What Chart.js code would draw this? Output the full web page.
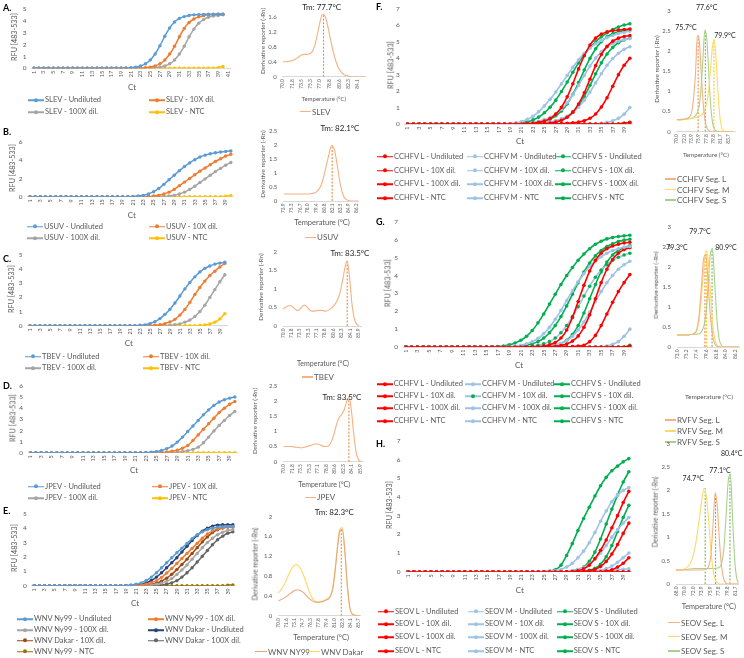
<!DOCTYPE html>
<html>
<head>
<meta charset="utf-8">
<script src="https://cdn.jsdelivr.net/npm/chart.js@4.4.1/dist/chart.umd.min.js"></script>
<style>
  body { margin: 0; background: #fff; }
  #fig { position: relative; width: 744px; height: 658px; overflow: hidden; font-family: Lato, "DejaVu Sans", sans-serif; color: #595959; }
  #fig canvas { position: absolute; }
  .pl { position: absolute; font-weight: bold; font-size: 9px; color: #000; }
  .tx { position: absolute; white-space: nowrap; transform: translate(-50%, -50%); line-height: 1; }
  .tx.rot { transform: translate(-50%, -50%) rotate(-90deg); }
  .lg { position: absolute; white-space: nowrap; font-size: 7.5px; line-height: 1; transform: translateY(-50%); display: flex; align-items: center; }
  .sw { display: inline-block; position: relative; height: 1.6px; margin-right: 1px; }
  .sw i { position: absolute; left: 50%; top: 50%; width: 4px; height: 4px; border-radius: 50%; transform: translate(-50%, -50%); }
</style>
</head>
<body>
<div id="fig"></div>
<script>
// cycles on the amplification plots
const cycles41 = [1,2,3,4,5,6,7,8,9,10,11,12,13,14,15,16,17,18,19,20,21,22,23,24,25,26,27,28,29,30,31,32,33,34,35,36,37,38,39,40,41];
const cycles40 = [1,2,3,4,5,6,7,8,9,10,11,12,13,14,15,16,17,18,19,20,21,22,23,24,25,26,27,28,29,30,31,32,33,34,35,36,37,38,39,40];

// A. SLEV
const slevNames = ['SLEV - Undiluted', 'SLEV - 10X dil.', 'SLEV - 100X dil.', 'SLEV - NTC'];
const slevUndil = [0,0,0,0,0, 0,0,0,0,0, 0,0,0,0,0, 0,0,0,0, 0.02,0.05,0.1,0.2,0.38,0.7,1.2,1.9,2.7,3.4,3.9,4.2,4.35,4.45,4.5,4.52,4.54,4.55,4.55,4.56,4.56];
const slev10x = [0,0,0,0,0, 0,0,0,0,0, 0,0,0,0,0, 0,0,0,0,0, 0,0, 0.02,0.05,0.1,0.2,0.38,0.7,1.2,1.85,2.65,3.35,3.85,4.15,4.33,4.43,4.5,4.53,4.55,4.56];
const slev100x = [0,0,0,0,0, 0,0,0,0,0, 0,0,0,0,0, 0,0,0,0,0, 0,0,0,0, 0.02,0.05,0.1,0.2,0.38,0.7,1.2,1.85,2.65,3.3,3.8,4.1,4.3,4.4,4.45,4.5];
const slevNtc = [0,0,0,0,0, 0,0,0,0,0, 0,0,0,0,0, 0,0,0,0,0, 0,0,0,0,0, 0,0,0,0,0, 0,0,0,0,0, 0,0,0, 0.05,0.15];

// B. USUV
const usuvNames = ['USUV - Undiluted', 'USUV - 10X dil.', 'USUV - 100X dil.', 'USUV - NTC'];
const usuvUndil = [0,0,0,0,0, 0,0,0,0,0, 0,0,0,0,0, 0,0,0,0,0, 0.03,0.07,0.15,0.3,0.55,0.9,1.35,1.85,2.35,2.85,3.3,3.7,4.05,4.35,4.55,4.7,4.82,4.9,4.96,5.0];
const usuv10x = [0,0,0,0,0, 0,0,0,0,0, 0,0,0,0,0, 0,0,0,0,0, 0,0,0, 0.03,0.07,0.15,0.3,0.5,0.8,1.2,1.6,2.0,2.4,2.8,3.15,3.5,3.85,4.15,4.45,4.65];
const usuv100x = [0,0,0,0,0, 0,0,0,0,0, 0,0,0,0,0, 0,0,0,0,0, 0,0,0,0,0, 0, 0.03,0.07,0.15,0.3,0.5,0.8,1.15,1.55,1.95,2.35,2.75,3.1,3.45,3.75];
const usuvNtc = [0,0,0,0,0, 0,0,0,0,0, 0,0,0,0,0, 0,0,0,0,0, 0,0,0,0,0, 0,0,0,0,0, 0,0,0,0,0, 0,0,0, 0.05,0.12];

// C. TBEV
const tbevNames = ['TBEV - Undiluted', 'TBEV - 10X dil.', 'TBEV - 100X dil.', 'TBEV - NTC'];
const tbevUndil = [0,0,0,0,0, 0,0,0,0,0, 0,0,0,0,0, 0,0,0,0,0, 0,0, 0.03,0.06,0.15,0.28,0.5,0.8,1.15,1.6,2.1,2.6,3.05,3.45,3.8,4.05,4.22,4.35,4.42,4.48];
const tbev10x = [0,0,0,0,0, 0,0,0,0,0, 0,0,0,0,0, 0,0,0,0,0, 0,0,0,0,0, 0.03,0.07,0.15,0.27,0.45,0.75,1.15,1.65,2.2,2.7,3.15,3.55,3.85,4.15,4.4];
const tbev100x = [0,0,0,0,0, 0,0,0,0,0, 0,0,0,0,0, 0,0,0,0,0, 0,0,0,0,0, 0,0,0, 0.03,0.07,0.13,0.25,0.4,0.65,1.0,1.45,2.0,2.55,3.1,3.6];
const tbevNtc = [0,0,0,0,0, 0,0,0,0,0, 0,0,0,0,0, 0,0,0,0,0, 0,0,0,0,0, 0,0,0,0,0, 0,0,0,0, 0.02,0.05,0.12,0.25,0.48,0.85];

// D. JPEV
const jpevNames = ['JPEV - Undiluted', 'JPEV - 10X dil.', 'JPEV - 100X dil.', 'JPEV - NTC'];
const jpevUndil = [0,0,0,0,0, 0,0,0,0,0, 0,0,0,0,0, 0,0,0,0,0, 0,0, 0.02,0.05,0.1,0.2,0.37,0.6,0.95,1.4,1.9,2.4,2.9,3.4,3.85,4.25,4.55,4.75,4.9,5.0];
const jpev10x = [0,0,0,0,0, 0,0,0,0,0, 0,0,0,0,0, 0,0,0,0,0, 0,0,0,0,0, 0.03,0.07,0.13,0.23,0.4,0.65,1.1,1.6,2.1,2.6,3.1,3.6,4.0,4.35,4.6];
const jpev100x = [0,0,0,0,0, 0,0,0,0,0, 0,0,0,0,0, 0,0,0,0,0, 0,0,0,0,0, 0,0,0, 0.05,0.1,0.17,0.3,0.5,0.9,1.4,1.95,2.45,2.9,3.35,3.7];
const jpevNtc = [0,0,0,0,0, 0,0,0,0,0, 0,0,0,0,0, 0,0,0,0,0, 0,0,0,0,0, 0,0,0,0,0, 0,0,0,0,0, 0,0,0,0,0];

// E. WNV
const wnvNames = ['WNV Ny99 - Undiluted', 'WNV Ny99 - 10X dil.', 'WNV Ny99 - 100X dil.', 'WNV Dakar - Undiluted', 'WNV Dakar - 10X dil.', 'WNV Dakar - 100X dil.', 'WNV Ny99 - NTC'];
const wnvNyUndil = [0,0,0,0,0, 0,0,0,0,0, 0,0,0,0,0, 0,0,0, 0.02,0.05,0.1,0.2,0.37,0.6,0.9,1.25,1.6,1.95,2.3,2.62,2.95,3.28,3.55,3.75,3.9,4.0,4.07,4.1,4.12,4.13];
const wnvNy10x = [0,0,0,0,0, 0,0,0,0,0, 0,0,0,0,0, 0,0,0,0,0, 0.02,0.05,0.1,0.2,0.35,0.58,0.88,1.2,1.55,1.9,2.25,2.6,2.95,3.3,3.6,3.82,3.95,4.03,4.08,4.1];
const wnvNy100x = [0,0,0,0,0, 0,0,0,0,0, 0,0,0,0,0, 0,0,0,0,0, 0,0, 0.02,0.05,0.1,0.18,0.3,0.5,0.78,1.1,1.45,1.85,2.25,2.65,3.0,3.3,3.55,3.72,3.85,3.92];
const wnvDkUndil = [0,0,0,0,0, 0,0,0,0,0, 0,0,0,0,0, 0,0,0,0, 0.02,0.05,0.1,0.2,0.37,0.6,0.9,1.25,1.6,1.95,2.35,2.75,3.15,3.5,3.8,4.0,4.15,4.22,4.25,4.25,4.25];
const wnvDk10x = [0,0,0,0,0, 0,0,0,0,0, 0,0,0,0,0, 0,0,0,0,0, 0, 0.02,0.05,0.1,0.18,0.32,0.52,0.8,1.12,1.48,1.85,2.25,2.65,3.05,3.4,3.7,3.9,4.02,4.08,4.1];
const wnvDk100x = [0,0,0,0,0, 0,0,0,0,0, 0,0,0,0,0, 0,0,0,0,0, 0,0,0,0, 0.02,0.05,0.1,0.2,0.35,0.6,0.9,1.25,1.65,2.05,2.45,2.85,3.2,3.45,3.65,3.75];
const wnvNtc = [0,0,0,0,0, 0,0,0,0,0, 0,0,0,0,0, 0,0,0,0,0, 0,0,0,0,0, 0,0,0,0,0, 0,0,0,0,0, 0,0,0, 0.03,0.05];

// F. CCHFV
const cchfvNames = ['CCHFV L - Undiluted', 'CCHFV M - Undiluted', 'CCHFV S - Undiluted', 'CCHFV L - 10X dil.', 'CCHFV M - 10X dil.', 'CCHFV S - 10X dil.', 'CCHFV L - 100X dil.', 'CCHFV M - 100X dil.', 'CCHFV S - 100X dil.', 'CCHFV L - NTC', 'CCHFV M - NTC', 'CCHFV S - NTC'];
const fLUndil = [0,0,0,0,0, 0,0,0,0,0, 0,0,0,0,0, 0,0,0,0,0, 0, 0.02,0.05,0.1,0.18,0.33,0.6,1.02,1.65,2.45,3.35,4.15,4.8,5.22,5.47,5.6,5.68,5.72,5.75,5.77];
const fMUndil = [0,0,0,0,0, 0,0,0,0,0, 0,0,0,0,0, 0,0,0, 0.03,0.07,0.15,0.28,0.47,0.75,1.1,1.5,1.95,2.45,2.95,3.45,3.9,4.3,4.62,4.88,5.08,5.25,5.38,5.5,5.58,5.65];
const fSUndil = [0,0,0,0,0, 0,0,0,0,0, 0,0,0,0,0, 0,0,0,0, 0.03,0.07,0.14,0.25,0.42,0.68,1.02,1.45,1.98,2.55,3.15,3.72,4.22,4.65,5.0,5.3,5.55,5.75,5.9,6.02,6.1];
const fL10x = [0,0,0,0,0, 0,0,0,0,0, 0,0,0,0,0, 0,0,0,0,0, 0,0,0,0, 0.03,0.06,0.12,0.23,0.41,0.72,1.22,1.9,2.72,3.55,4.23,4.72,5.04,5.22,5.32,5.38];
const fM10x = [0,0,0,0,0, 0,0,0,0,0, 0,0,0,0,0, 0,0,0,0,0, 0.03,0.06,0.1,0.17,0.27,0.4,0.61,0.9,1.29,1.78,2.35,2.95,3.52,4.01,4.4,4.69,4.9,5.04,5.13,5.19];
const fS10x = [0,0,0,0,0, 0,0,0,0,0, 0,0,0,0,0, 0,0,0,0,0, 0, 0.03,0.06,0.11,0.19,0.31,0.5,0.79,1.22,1.81,2.52,3.28,3.99,4.58,5.01,5.3,5.49,5.61,5.69,5.74];
const fL100x = [0,0,0,0,0, 0,0,0,0,0, 0,0,0,0,0, 0,0,0,0,0, 0,0,0,0,0, 0,0, 0.02,0.04,0.07,0.12,0.2,0.35,0.61,1.03,1.6,2.3,3.0,3.57,4.0];
const fM100x = [0,0,0,0,0, 0,0,0,0,0, 0,0,0,0,0, 0,0,0,0,0, 0,0, 0.03,0.05,0.08,0.13,0.2,0.31,0.47,0.7,1.02,1.44,1.94,2.5,3.06,3.57,3.98,4.3,4.54,4.7];
const fS100x = [0,0,0,0,0, 0,0,0,0,0, 0,0,0,0,0, 0,0,0,0,0, 0,0,0, 0.03,0.06,0.1,0.17,0.29,0.46,0.74,1.14,1.68,2.35,3.05,3.72,4.26,4.66,4.94,5.11,5.23];
const fLNtc = [0,0,0,0,0, 0,0,0,0,0, 0,0,0,0,0, 0,0,0,0,0, 0,0,0,0,0, 0,0,0,0,0, 0,0,0,0,0, 0,0,0, 0.05,0.1];
const fMNtc = [0,0,0,0,0, 0,0,0,0,0, 0,0,0,0,0, 0,0,0,0,0, 0,0,0,0,0, 0,0,0,0,0, 0,0,0,0, 0.05,0.1,0.2,0.35,0.6,1.0];
const fSNtc = [0,0,0,0,0, 0,0,0,0,0, 0,0,0,0,0, 0,0,0,0,0, 0,0,0,0,0, 0,0,0,0,0, 0,0,0,0,0, 0,0,0, 0.05,0.08];

// G. RVFV (legend as printed)
const gLUndil = [0,0,0,0,0, 0,0,0,0,0, 0,0,0,0,0, 0,0,0,0,0, 0,0,0,0, 0.05,0.12,0.25,0.5,0.95,1.65,2.55,3.45,4.25,4.85,5.25,5.5,5.65,5.75,5.82,5.86];
const gMUndil = [0,0,0,0,0, 0,0,0,0,0, 0,0,0,0,0, 0,0,0, 0.03,0.06,0.1,0.18,0.3,0.48,0.75,1.1,1.55,2.05,2.6,3.15,3.65,4.1,4.5,4.8,5.05,5.25,5.4,5.5,5.58,5.63];
const gSUndil = [0,0,0,0,0, 0,0,0,0,0, 0,0,0,0,0, 0, 0.03,0.06,0.12,0.22,0.38,0.6,0.92,1.35,1.85,2.4,2.95,3.5,4.0,4.45,4.85,5.2,5.5,5.75,5.92,6.05,6.13,6.18,6.22,6.25];
const gL10x = [0,0,0,0,0, 0,0,0,0,0, 0,0,0,0,0, 0,0,0,0,0, 0,0,0,0,0, 0, 0.04,0.08,0.17,0.33,0.62,1.1,1.8,2.7,3.6,4.35,4.9,5.25,5.45,5.55];
const gM10x = [0,0,0,0,0, 0,0,0,0,0, 0,0,0,0,0, 0,0,0,0,0, 0,0, 0.05,0.1,0.18,0.3,0.5,0.8,1.2,1.7,2.25,2.85,3.4,3.9,4.3,4.6,4.85,5.02,5.15,5.25];
const gS10x = [0,0,0,0,0, 0,0,0,0,0, 0,0,0,0,0, 0,0,0,0,0, 0.05,0.1,0.18,0.3,0.5,0.8,1.2,1.7,2.3,2.95,3.6,4.2,4.7,5.1,5.4,5.62,5.78,5.9,5.98,6.03];
const gL100x = [0,0,0,0,0, 0,0,0,0,0, 0,0,0,0,0, 0,0,0,0,0, 0,0,0,0,0, 0,0,0,0, 0.02,0.05,0.1,0.3,0.65,1.2,1.85,2.5,3.1,3.6,4.05];
const gM100x = [0,0,0,0,0, 0,0,0,0,0, 0,0,0,0,0, 0,0,0,0,0, 0,0,0,0, 0.03,0.06,0.1,0.2,0.35,0.6,0.95,1.4,1.95,2.55,3.1,3.6,4.0,4.35,4.6,4.8];
const gS100x = [0,0,0,0,0, 0,0,0,0,0, 0,0,0,0,0, 0,0,0,0,0, 0,0,0,0,0, 0.05,0.1,0.2,0.38,0.7,1.2,1.9,2.7,3.5,4.2,4.75,5.15,5.4,5.57,5.68];
const gLNtc = [0,0,0,0,0, 0,0,0,0,0, 0,0,0,0,0, 0,0,0,0,0, 0,0,0,0,0, 0,0,0,0,0, 0,0,0,0,0, 0,0,0,0, 0.05];
const gMNtc = [0,0,0,0,0, 0,0,0,0,0, 0,0,0,0,0, 0,0,0,0,0, 0,0,0,0,0, 0,0,0,0,0, 0,0,0,0,0, 0.05,0.15,0.3,0.6,1.0];
const gSNtc = [0,0,0,0,0, 0,0,0,0,0, 0,0,0,0,0, 0,0,0,0,0, 0,0,0,0,0, 0,0,0,0,0, 0,0,0,0,0, 0,0,0,0, 0.1];

// H. SEOV
const seovNames = ['SEOV L - Undiluted', 'SEOV M - Undiluted', 'SEOV S - Undiluted', 'SEOV L - 10X dil.', 'SEOV M - 10X dil.', 'SEOV S - 10X dil.', 'SEOV L - 100X dil.', 'SEOV M - 100X dil.', 'SEOV S - 100X dil.', 'SEOV L - NTC', 'SEOV M - NTC', 'SEOV S - NTC'];
const hLUndil = [0,0,0,0,0, 0,0,0,0,0, 0,0,0,0,0, 0,0,0,0,0, 0,0,0,0,0, 0,0,0,0,0, 0.05,0.15,0.35,0.7,1.15,1.7,2.35,3.0,3.7,4.3];
const hMUndil = [0,0,0,0,0, 0,0,0,0,0, 0,0,0,0,0, 0,0,0,0,0, 0,0,0,0, 0.01,0.03,0.05,0.12,0.25,0.45,0.75,1.1,1.55,2.1,2.7,3.25,3.75,4.1,4.35,4.5];
const hSUndil = [0,0,0,0,0, 0,0,0,0,0, 0,0,0,0,0, 0,0,0,0,0, 0,0,0,0,0, 0.03,0.1,0.35,0.87,1.5,2.2,2.85,3.45,4.05,4.6,5.05,5.4,5.65,5.88,6.05];
const hL10x = [0,0,0,0,0, 0,0,0,0,0, 0,0,0,0,0, 0,0,0,0,0, 0,0,0,0,0, 0,0,0,0,0, 0,0, 0.05,0.12,0.28,0.55,0.95,1.45,2.05,2.6];
const hM10x = [0,0,0,0,0, 0,0,0,0,0, 0,0,0,0,0, 0,0,0,0,0, 0,0,0,0,0, 0,0,0,0, 0.05,0.12,0.22,0.4,0.65,1.0,1.4,1.85,2.25,2.6,2.9];
const hS10x = [0,0,0,0,0, 0,0,0,0,0, 0,0,0,0,0, 0,0,0,0,0, 0,0,0,0,0, 0,0,0,0, 0.05,0.12,0.25,0.55,1.05,1.75,2.55,3.35,4.1,4.8,5.35];
const hL100x = [0,0,0,0,0, 0,0,0,0,0, 0,0,0,0,0, 0,0,0,0,0, 0,0,0,0,0, 0,0,0,0,0, 0,0,0,0,0, 0.03,0.1,0.25,0.45,0.75];
const hM100x = [0,0,0,0,0, 0,0,0,0,0, 0,0,0,0,0, 0,0,0,0,0, 0,0,0,0,0, 0,0,0,0,0, 0,0,0, 0.03,0.08,0.17,0.3,0.5,0.75,1.0];
const hS100x = [0,0,0,0,0, 0,0,0,0,0, 0,0,0,0,0, 0,0,0,0,0, 0,0,0,0,0, 0,0,0,0,0, 0, 0.03,0.08,0.18,0.4,0.8,1.4,2.15,2.9,3.55];
const hLNtc = [0,0,0,0,0, 0,0,0,0,0, 0,0,0,0,0, 0,0,0,0,0, 0,0,0,0,0, 0,0,0,0,0, 0,0,0,0,0, 0,0,0,0,0];
const hMNtc = [0,0,0,0,0, 0,0,0,0,0, 0,0,0,0,0, 0,0,0,0,0, 0,0,0,0,0, 0,0,0,0,0, 0,0,0,0,0, 0.03,0.06,0.1,0.13,0.15];
const hSNtc = [0,0,0,0,0, 0,0,0,0,0, 0,0,0,0,0, 0,0,0,0,0, 0,0,0,0,0, 0,0,0,0,0, 0,0,0,0,0, 0,0,0,0,0];

// melt curves (temperature, derivative)
const slevTemps = [70,70.5,71,71.5,72,72.5,73,73.5,74,74.5,75,75.5,76,76.5,77,77.5,78,78.5,79,79.5,80,80.5,81,81.5,82,82.5,83,83.5,84,84.5,85,85.5];
const slevMelt = [0.4,0.4,0.41,0.42,0.44,0.48,0.53,0.58,0.6,0.6,0.61,0.66,0.82,1.12,1.45,1.68,1.62,1.35,1.0,0.68,0.42,0.24,0.13,0.06,0.03,0.01,0,0,0,0,0,0];
const usuvTemps = [74,74.5,75,75.5,76,76.5,77,77.5,78,78.5,79,79.5,80,80.5,81,81.5,82,82.5,83,83.5,84,84.5,85,85.5,86,86.5];
const usuvMelt = [0.25,0.25,0.25,0.25,0.25,0.25,0.25,0.25,0.25,0.26,0.28,0.33,0.45,0.72,1.15,1.6,1.97,1.8,1.2,0.55,0.18,0.05,0.01,0,0,0];
const temps70to86 = [70,70.5,71,71.5,72,72.5,73,73.5,74,74.5,75,75.5,76,76.5,77,77.5,78,78.5,79,79.5,80,80.5,81,81.5,82,82.5,83,83.5,84,84.5,85,85.5,86];
const tbevMelt = [0.45,0.5,0.54,0.55,0.52,0.46,0.42,0.44,0.52,0.56,0.52,0.44,0.4,0.4,0.41,0.42,0.42,0.41,0.4,0.42,0.46,0.52,0.6,0.72,0.9,1.2,1.55,1.75,1.3,0.6,0.2,0.05,0.01];
const jpevMelt = [0.5,0.5,0.5,0.5,0.49,0.48,0.47,0.46,0.46,0.48,0.5,0.53,0.56,0.58,0.58,0.56,0.52,0.5,0.5,0.55,0.7,0.95,1.25,1.45,1.55,1.7,1.95,2.12,1.7,0.9,0.3,0.06,0.01];
const wnvNyMelt = [0.3,0.32,0.35,0.38,0.42,0.46,0.5,0.52,0.52,0.5,0.46,0.4,0.35,0.31,0.28,0.27,0.27,0.28,0.3,0.32,0.36,0.48,0.8,1.3,1.7,1.75,1.3,0.6,0.15,0.03,0.01,0,0];
const wnvDkMelt = [0.45,0.52,0.6,0.7,0.82,0.93,1.0,1.03,1.0,0.92,0.8,0.65,0.5,0.38,0.31,0.28,0.28,0.29,0.31,0.34,0.38,0.5,0.85,1.35,1.75,1.78,1.3,0.58,0.15,0.03,0.01,0,0];
const cchfvTemps = [70,70.5,71,71.5,72,72.5,73,73.5,74,74.5,75,75.5,76,76.5,77,77.5,78,78.5,79,79.5,80,80.5,81,81.5,82,82.5,83,83.5,84,84.5,85];
const cchfvLMelt = [0.3,0.3,0.3,0.31,0.31,0.32,0.34,0.38,0.5,0.85,1.45,2.38,2.25,1.5,0.75,0.3,0.1,0.03,0.01,0,0,0,0,0,0,0,0,0,0,0,0];
const cchfvMMelt = [0.3,0.3,0.3,0.3,0.31,0.31,0.32,0.32,0.33,0.34,0.35,0.36,0.38,0.41,0.46,0.55,0.72,1.05,1.55,2.1,2.28,1.75,0.95,0.35,0.1,0.02,0,0,0,0,0];
const cchfvSMelt = [0.3,0.3,0.3,0.3,0.31,0.31,0.32,0.32,0.33,0.35,0.4,0.48,0.65,1.1,1.85,2.52,2.3,1.5,0.7,0.25,0.07,0.02,0,0,0,0,0,0,0,0,0];
const rvfvTemps = [73,73.5,74,74.5,75,75.5,76,76.5,77,77.5,78,78.5,79,79.5,80,80.5,81,81.5,82,82.5,83,83.5,84,84.5,85,85.5,86,86.5,87];
const rvfvLMelt = [0.3,0.3,0.3,0.3,0.3,0.3,0.31,0.32,0.35,0.45,0.8,1.5,2.2,2.3,1.6,0.8,0.3,0.08,0.02,0,0,0,0,0,0,0,0,0,0];
const rvfvMMelt = [0.3,0.3,0.3,0.3,0.3,0.3,0.31,0.32,0.34,0.42,0.7,1.25,1.9,2.4,2.2,1.4,0.6,0.2,0.05,0.01,0,0,0,0,0,0,0,0,0];
const rvfvSMelt = [0.3,0.3,0.3,0.3,0.3,0.3,0.31,0.31,0.32,0.32,0.33,0.38,0.5,0.8,1.5,2.3,2.45,1.6,0.7,0.2,0.05,0,0,0,0,0,0,0,0];
const seovTemps = [68,68.5,69,69.5,70,70.5,71,71.5,72,72.5,73,73.5,74,74.5,75,75.5,76,76.5,77,77.5,78,78.5,79,79.5,80,80.5,81,81.5,82,82.5];
const seovLMelt = [0.3,0.3,0.3,0.3,0.3,0.3,0.3,0.3,0.3,0.3,0.3,0.3,0.3,0.31,0.32,0.38,0.6,1.25,1.95,1.65,0.9,0.35,0.1,0.02,0,0,0,0,0,0];
const seovMMelt = [0.3,0.3,0.3,0.31,0.32,0.35,0.4,0.48,0.62,0.85,1.15,1.5,1.85,2.05,1.85,1.35,0.75,0.3,0.1,0.03,0,0,0,0,0,0,0,0,0,0];
const seovSMelt = [0.3,0.3,0.3,0.3,0.31,0.31,0.32,0.32,0.33,0.33,0.33,0.33,0.33,0.33,0.33,0.33,0.33,0.33,0.33,0.34,0.36,0.45,0.75,1.45,2.2,2.35,1.4,0.5,0.1,0.02];

// tick labels on the melt axes
const ticksA = [70.0,71.8,73.5,75.3,77.0,78.8,80.6,82.3,84.1];
const ticksB = [73.9,75.3,76.7,78.0,79.4,80.8,82.1,83.5,84.9,86.2];
const ticksCD = [70.0,71.8,73.5,75.3,77.1,78.8,80.6,82.3,84.1,85.9];
const ticksE = [70.0,71.6,73.1,74.7,76.3,77.8,79.4,81.0,82.5,84.1,85.7];
const ticksF = [70.0,72.0,73.9,75.9,77.8,79.8,81.7,83.7];
const ticksG = [73.0,75.2,77.4,79.6,81.8,84.0,86.2];
const ticksH = [68.0,70.0,72.0,73.9,75.9,77.8,79.8,81.7];

// melting temperatures
const tmSlev = 77.7, tmUsuv = 82.1, tmTbev = 83.5, tmJpev = 83.5, tmWnv = 82.3;
const tmCchfv = [75.7, 79.9, 77.6];
const tmRvfv = [79.3, 79.7, 80.9];
const tmSeov = [77.1, 74.7, 80.4];

const BLUE = '#5B9BD5', ORANGE = '#ED7D31', GRAY = '#A5A5A5', GOLD = '#FFC000';
const DBLUE = '#264478', DORANGE = '#9E480E', DGRAY = '#636363', OLIVE = '#997300';
const RED = '#FF0000', LBLUE = '#9DC3E6', GREEN = '#00B050';
const M_OR = '#F4B183', M_YE = '#FFD966', M_GR = '#A9D18E';

Chart.defaults.font.family = 'Lato, "DejaVu Sans", sans-serif';
Chart.defaults.color = '#595959';
const fig = document.getElementById('fig');

function addCanvas(b) {
  const c = document.createElement('canvas');
  c.width = b.w; c.height = b.h;
  c.style.left = b.l + 'px'; c.style.top = b.t + 'px';
  c.style.width = b.w + 'px'; c.style.height = b.h + 'px';
  fig.appendChild(c);
  return c;
}
function addText(str, x, y, size, color, cls) {
  const d = document.createElement('div');
  d.className = cls || 'tx';
  d.textContent = str;
  d.style.left = x + 'px'; d.style.top = y + 'px';
  if (size) d.style.fontSize = size + 'px';
  if (color) d.style.color = color;
  fig.appendChild(d);
}
// items in row-major order over the given columns
function addLegend(items, xs, ys, sw, size, dots) {
  items.forEach((it, i) => {
    const d = document.createElement('div');
    d.className = 'lg';
    d.style.left = xs[i % xs.length] + 'px';
    d.style.top = ys[Math.floor(i / xs.length)] + 'px';
    if (size) d.style.fontSize = size + 'px';
    const s = document.createElement('span');
    s.className = 'sw';
    s.style.width = sw + 'px';
    s.style.background = it.color;
    if (dots) {
      const dot = document.createElement('i');
      dot.style.background = it.dot || it.color;
      s.appendChild(dot);
    }
    d.appendChild(s);
    d.appendChild(document.createTextNode(it.name));
    fig.appendChild(d);
  });
}

function ampChart(p) {
  const b = p.box, a = p.area;
  new Chart(addCanvas(b), {
    type: 'line',
    data: {
      labels: p.labels,
      datasets: p.series.map(s => ({
        label: s.name, data: s.data,
        borderColor: s.color, backgroundColor: s.dot || s.color,
        pointBackgroundColor: s.dot || s.color, pointBorderColor: s.dot || s.color,
        pointRadius: p.r || 1.7, pointBorderWidth: 0, borderWidth: p.lw || 1.5, tension: 0.2
      }))
    },
    options: {
      responsive: false, animation: false, devicePixelRatio: 1,
      layout: { padding: { left: 0, bottom: 0, top: a.top - b.t, right: b.l + b.w - a.right } },
      plugins: { legend: { display: false }, tooltip: { enabled: false } },
      scales: {
        x: {
          offset: true,
          grid: { display: false, drawTicks: false },
          border: { color: '#d9d9d9' },
          ticks: { autoSkip: false, minRotation: 90, maxRotation: 90, padding: 2.5, font: { size: 5.5 },
                   callback: (v, i) => (i % 2 === 0 ? p.labels[i] : '') },
          afterFit: s => { s.height = b.t + b.h - a.bottom; }
        },
        y: {
          min: 0, max: p.yMax,
          grid: { display: false, drawTicks: false }, border: { display: false },
          ticks: { stepSize: 1, padding: 5, font: { size: 6.5 } },
          afterFit: s => { s.width = a.left - b.l; }
        }
      }
    }
  });
  addText('RFU [483-533]', p.yt, (a.top + a.bottom) / 2, 7.2, null, 'tx rot');
  addText('Ct', (a.left + a.right) / 2, p.xt, 8);
}

function meltChart(p) {
  const b = p.box, a = p.area;
  const sets = p.curves.map(c => ({
    data: c.temps.map((t, i) => ({ x: t, y: c.vals[i] })),
    borderColor: c.color, borderWidth: 1.1, pointRadius: 0, cubicInterpolationMode: 'monotone'
  }));
  p.curves.forEach(c => {
    if (c.tm) sets.push({
      data: [{ x: c.tm, y: 0 }, { x: c.tm, y: Math.max(...c.vals) }],
      borderColor: c.dash, borderWidth: 1, borderDash: [2, 1.5], pointRadius: 0
    });
  });
  new Chart(addCanvas(b), {
    type: 'line',
    data: { datasets: sets },
    options: {
      responsive: false, animation: false, devicePixelRatio: 1,
      layout: { padding: { left: 0, bottom: 0, top: a.top - b.t, right: b.l + b.w - a.right } },
      plugins: { legend: { display: false }, tooltip: { enabled: false } },
      scales: {
        x: {
          type: 'linear', min: p.xMin, max: p.xMax,
          afterBuildTicks: s => { s.ticks = p.xTicks.map(v => ({ value: v })); },
          grid: { display: false, drawTicks: false },
          border: { color: '#d9d9d9' },
          ticks: { autoSkip: false, minRotation: 90, maxRotation: 90, padding: 2.5, font: { size: 4.8 },
                   callback: v => Number(v).toFixed(1) },
          afterFit: s => { s.height = b.t + b.h - a.bottom; }
        },
        y: {
          min: 0, max: p.yMax,
          grid: { display: false, drawTicks: false }, border: { display: false },
          ticks: { stepSize: p.yStep, padding: 6, font: { size: 6 },
                   callback: v => String(Math.round(v * 10) / 10) },
          afterFit: s => { s.width = a.left - b.l; }
        }
      }
    }
  });
  addText('Derivative reporter (-Rn)', p.yt, (a.top + a.bottom) / 2, p.yf || 6.3, null, 'tx rot');
  addText('Temperature (°C)', (a.left + a.right) / 2, p.xt, p.tf || 7);
}

// ---------- left column ----------
ampChart({ box: { l: 11, t: 0, w: 226, h: 92 }, area: { left: 31.5, top: 5.7, right: 232.5, bottom: 68.3 },
  yt: 15, xt: 87, yMax: 5, labels: cycles41,
  series: [
    { name: slevNames[0], data: slevUndil, color: BLUE },
    { name: slevNames[1], data: slev10x, color: ORANGE },
    { name: slevNames[2], data: slev100x, color: GRAY },
    { name: slevNames[3], data: slevNtc, color: GOLD }] });
addLegend([{ name: slevNames[0], color: BLUE }, { name: slevNames[1], color: ORANGE }, { name: slevNames[2], color: GRAY }, { name: slevNames[3], color: GOLD }],
  [28, 149], [100, 112.3], 16, 7.5, true);

ampChart({ box: { l: 8, t: 133, w: 232, h: 87 }, area: { left: 27.4, top: 139.8, right: 236.1, bottom: 196.7 },
  yt: 12.7, xt: 215, yMax: 6, labels: cycles40,
  series: [
    { name: usuvNames[0], data: usuvUndil, color: BLUE },
    { name: usuvNames[1], data: usuv10x, color: ORANGE },
    { name: usuvNames[2], data: usuv100x, color: GRAY },
    { name: usuvNames[3], data: usuvNtc, color: GOLD }] });
addLegend([{ name: usuvNames[0], color: BLUE }, { name: usuvNames[1], color: ORANGE }, { name: usuvNames[2], color: GRAY }, { name: usuvNames[3], color: GOLD }],
  [27, 149], [226.7, 238.3], 16, 7.5, true);

ampChart({ box: { l: 7, t: 246, w: 227, h: 102 }, area: { left: 27.5, top: 251.7, right: 230.3, bottom: 325.7 },
  yt: 11.7, xt: 343, yMax: 5, labels: cycles40,
  series: [
    { name: tbevNames[0], data: tbevUndil, color: BLUE },
    { name: tbevNames[1], data: tbev10x, color: ORANGE },
    { name: tbevNames[2], data: tbev100x, color: GRAY },
    { name: tbevNames[3], data: tbevNtc, color: GOLD }] });
addLegend([{ name: tbevNames[0], color: BLUE }, { name: tbevNames[1], color: ORANGE }, { name: tbevNames[2], color: GRAY }, { name: tbevNames[3], color: GOLD }],
  [25, 143], [356.7, 368.3], 16, 7.5, true);

ampChart({ box: { l: 8, t: 377, w: 236, h: 98 }, area: { left: 28, top: 382.5, right: 240, bottom: 452.7 },
  yt: 12.7, xt: 470, yMax: 6, labels: cycles40,
  series: [
    { name: jpevNames[0], data: jpevUndil, color: BLUE },
    { name: jpevNames[1], data: jpev10x, color: ORANGE },
    { name: jpevNames[2], data: jpev100x, color: GRAY },
    { name: jpevNames[3], data: jpevNtc, color: GOLD }] });
addLegend([{ name: jpevNames[0], color: BLUE }, { name: jpevNames[1], color: ORANGE }, { name: jpevNames[2], color: GRAY }, { name: jpevNames[3], color: GOLD }],
  [28, 152], [486.7, 498.3], 16, 7.5, true);

const wnvColors = [BLUE, ORANGE, GRAY, DBLUE, DORANGE, DGRAY, OLIVE];
const wnvData = [wnvNyUndil, wnvNy10x, wnvNy100x, wnvDkUndil, wnvDk10x, wnvDk100x, wnvNtc];
ampChart({ box: { l: 11, t: 505, w: 231, h: 103 }, area: { left: 31.7, top: 510.7, right: 238.5, bottom: 585.7 },
  yt: 15, xt: 603, yMax: 5, labels: cycles40,
  series: wnvNames.map((n, i) => ({ name: n, data: wnvData[i], color: wnvColors[i] })) });
addLegend(wnvNames.map((n, i) => ({ name: n, color: wnvColors[i] })), [17, 148], [619.3, 630, 640.7, 651.7], 16, 7.5, true);

// melt curves, left column
meltChart({ box: { l: 259, t: 0, w: 110, h: 103 }, area: { left: 282.7, top: 5.7, right: 365, bottom: 76.7 },
  yt: 262.7, xt: 99.3, xMin: 70, xMax: 85.5, xTicks: ticksA, yMax: 1.8, yStep: 0.2, tf: 6, yf: 6.2,
  curves: [{ temps: slevTemps, vals: slevMelt, color: M_OR, tm: tmSlev, dash: ORANGE }] });
addText('Tm: ' + tmSlev + '°C', 321.7, 6.7, 8, '#262626');
addLegend([{ name: 'SLEV', color: M_OR }], [300], [111.7], 11, 8, false);

meltChart({ box: { l: 259, t: 121, w: 106, h: 107 }, area: { left: 283.3, top: 126, right: 360.7, bottom: 201 },
  yt: 262.7, xt: 223.3, xMin: 73.9, xMax: 86.6, xTicks: ticksB, yMax: 2.5, yStep: 0.5, tf: 7.5, yf: 6.3,
  curves: [{ temps: usuvTemps, vals: usuvMelt, color: M_OR, tm: tmUsuv, dash: ORANGE }] });
addText('Tm: ' + tmUsuv + '°C', 340, 127.5, 8, '#262626');
addLegend([{ name: 'USUV', color: M_OR }], [305], [237.3], 11, 8, false);

meltChart({ box: { l: 257, t: 242, w: 110, h: 125 }, area: { left: 283, top: 247, right: 363, bottom: 326 },
  yt: 261, xt: 363, xMin: 70, xMax: 86.5, xTicks: ticksCD, yMax: 2, yStep: 0.5, tf: 7, yf: 6.3,
  curves: [{ temps: temps70to86, vals: tbevMelt, color: M_OR, tm: tmTbev, dash: ORANGE }] });
addText('Tm: ' + tmTbev + '°C', 350, 253, 8, '#262626');
addLegend([{ name: 'TBEV', color: M_OR }], [302], [377], 11, 8, false);

meltChart({ box: { l: 251, t: 376, w: 118, h: 113 }, area: { left: 283.3, top: 380.4, right: 365, bottom: 461.7 },
  yt: 255, xt: 484.3, xMin: 70, xMax: 86.6, xTicks: ticksCD, yMax: 2.5, yStep: 0.5, tf: 7, yf: 6.2,
  curves: [{ temps: temps70to86, vals: jpevMelt, color: M_OR, tm: tmJpev, dash: ORANGE }] });
addText('Tm: ' + tmJpev + '°C', 342, 397, 8, '#262626');
addLegend([{ name: 'JPEV', color: M_OR }], [305], [497.3], 11, 8, false);

meltChart({ box: { l: 251, t: 507, w: 116, h: 136 }, area: { left: 278.3, top: 512.3, right: 364, bottom: 615.7 },
  yt: 255, xt: 638.3, xMin: 70, xMax: 86.1, xTicks: ticksE, yMax: 2, yStep: 0.2, tf: 7.5, yf: 6.8,
  curves: [{ temps: temps70to86, vals: wnvNyMelt, color: '#E7A77E', tm: tmWnv, dash: ORANGE },
           { temps: temps70to86, vals: wnvDkMelt, color: M_YE }] });
addText('Tm: ' + tmWnv + '°C', 334.3, 512.3, 8, '#262626');
addLegend([{ name: 'WNV NY99', color: '#E7A77E' }, { name: 'WNV Dakar', color: M_YE }], [255, 308], [651.7], 12, 8, false);

// ---------- right column ----------
const segColors = [RED, LBLUE, GREEN];
function segSeries(names, data, dots) {
  return names.map((n, i) => ({ name: n, data: data[i], color: segColors[i % 3], dot: dots && dots[i] }));
}
const cchfvData = [fLUndil, fMUndil, fSUndil, fL10x, fM10x, fS10x, fL100x, fM100x, fS100x, fLNtc, fMNtc, fSNtc];
const rvfvData = [gLUndil, gMUndil, gSUndil, gL10x, gM10x, gS10x, gL100x, gM100x, gS100x, gLNtc, gMNtc, gSNtc];
const seovData = [hLUndil, hMUndil, hSUndil, hL10x, hM10x, hS10x, hL100x, hM100x, hS100x, hLNtc, hMNtc, hSNtc];
const rvfvDots = [null, null, null, null, GREEN, null, null, null, null, null, null, null];

ampChart({ box: { l: 386, t: 0, w: 253, h: 146 }, area: { left: 404.8, top: 5.7, right: 635.2, bottom: 124 },
  yt: 390.7, xt: 141, yMax: 7, labels: cycles40, r: 1.8, lw: 1.6, series: segSeries(cchfvNames, cchfvData) });
addLegend(segSeries(cchfvNames, cchfvData), [377, 467, 555], [156.7, 170.7, 184.3, 198.3], 16, 7.5, true);

ampChart({ box: { l: 384, t: 213, w: 255, h: 157 }, area: { left: 403.1, top: 219, right: 635.1, bottom: 347 },
  yt: 388.3, xt: 365, yMax: 7, labels: cycles40, r: 1.8, lw: 1.6, series: segSeries(cchfvNames, rvfvData, rvfvDots) });
addLegend(segSeries(cchfvNames, rvfvData, rvfvDots), [376.7, 465, 554], [384, 396, 408.3, 421], 16, 7.5, true);

ampChart({ box: { l: 386, t: 432, w: 252, h: 163 }, area: { left: 405.4, top: 438.2, right: 634.3, bottom: 571.7 },
  yt: 390, xt: 590, yMax: 7, labels: cycles40, r: 1.8, lw: 1.6, series: segSeries(seovNames, seovData) });
addLegend(segSeries(seovNames, seovData), [378, 468, 556.7], [611.7, 624, 637.3, 651], 16, 7.5, true);

meltChart({ box: { l: 653, t: 1, w: 87, h: 158 }, area: { left: 676.7, top: 6, right: 735, bottom: 131.7 },
  yt: 656.7, xt: 155, xMin: 70, xMax: 85.5, xTicks: ticksF, yMax: 3, yStep: 0.5, tf: 6.2, yf: 6.3,
  curves: [{ temps: cchfvTemps, vals: cchfvLMelt, color: M_OR, tm: tmCchfv[0], dash: ORANGE },
           { temps: cchfvTemps, vals: cchfvMMelt, color: M_YE, tm: tmCchfv[1], dash: GOLD },
           { temps: cchfvTemps, vals: cchfvSMelt, color: M_GR, tm: tmCchfv[2], dash: '#70AD47' }] });
addText(tmCchfv[2] + '°C', 706.7, 6.7, 7, '#262626');
addText(tmCchfv[0] + '°C', 686, 27.3, 7, '#262626');
addText(tmCchfv[1] + '°C', 725, 35, 7, '#262626');
addLegend([{ name: 'CCHFV Seg. L', color: M_OR }, { name: 'CCHFV Seg. M', color: M_YE }, { name: 'CCHFV Seg. S', color: M_GR }],
  [665], [179, 189.5, 200], 11, 8, false);

meltChart({ box: { l: 652, t: 217, w: 92, h: 184 }, area: { left: 677, top: 222, right: 741, bottom: 347 },
  yt: 656, xt: 397, xMin: 73, xMax: 87, xTicks: ticksG, yMax: 3, yStep: 0.5, tf: 6.5, yf: 6.3,
  curves: [{ temps: rvfvTemps, vals: rvfvLMelt, color: M_OR, tm: tmRvfv[0], dash: ORANGE },
           { temps: rvfvTemps, vals: rvfvMMelt, color: M_YE, tm: tmRvfv[1], dash: GOLD },
           { temps: rvfvTemps, vals: rvfvSMelt, color: M_GR, tm: tmRvfv[2], dash: '#70AD47' }] });
addText(tmRvfv[1] + '°C', 700, 231, 7, '#262626');
addText(tmRvfv[0] + '°C', 677, 247, 7, '#262626');
addText(tmRvfv[2] + '°C', 726, 247, 7, '#262626');
addLegend([{ name: 'RVFV Seg. L', color: M_OR }, { name: 'RVFV Seg. M', color: M_YE }, { name: 'RVFV Seg. S', color: M_GR }],
  [665], [420, 431, 442], 11, 8, false);

meltChart({ box: { l: 651, t: 434, w: 93, h: 177 }, area: { left: 676, top: 439.3, right: 741.7, bottom: 584 },
  yt: 655, xt: 606.7, xMin: 68, xMax: 82.4, xTicks: ticksH, yMax: 3, yStep: 0.5, tf: 7.3, yf: 6.6,
  curves: [{ temps: seovTemps, vals: seovLMelt, color: M_OR, tm: tmSeov[0], dash: '#70AD47' },
           { temps: seovTemps, vals: seovMMelt, color: M_YE, tm: tmSeov[1], dash: '#70AD47' },
           { temps: seovTemps, vals: seovSMelt, color: M_GR, tm: tmSeov[2], dash: '#70AD47' }] });
addText(tmSeov[2] + '°C', 731.7, 453.3, 7, '#262626');
addText(tmSeov[0] + '°C', 720, 470, 7, '#262626');
addText(tmSeov[1] + '°C', 693.3, 478.3, 7, '#262626');
addLegend([{ name: 'SEOV Seg. L', color: M_OR }, { name: 'SEOV Seg. M', color: M_YE }, { name: 'SEOV Seg. S', color: M_GR }],
  [668], [622.7, 636.7, 651], 12, 8, false);

// panel letters
[['A.', 3, 2], ['B.', 3, 126], ['C.', 3, 253], ['D.', 3, 380], ['E.', 3, 505], ['F.', 376, 1], ['G.', 376, 216], ['H.', 376, 438]]
  .forEach(([t, x, y]) => addText(t, x, y, 9, '#000', 'pl'));
</script>
</body>
</html>
